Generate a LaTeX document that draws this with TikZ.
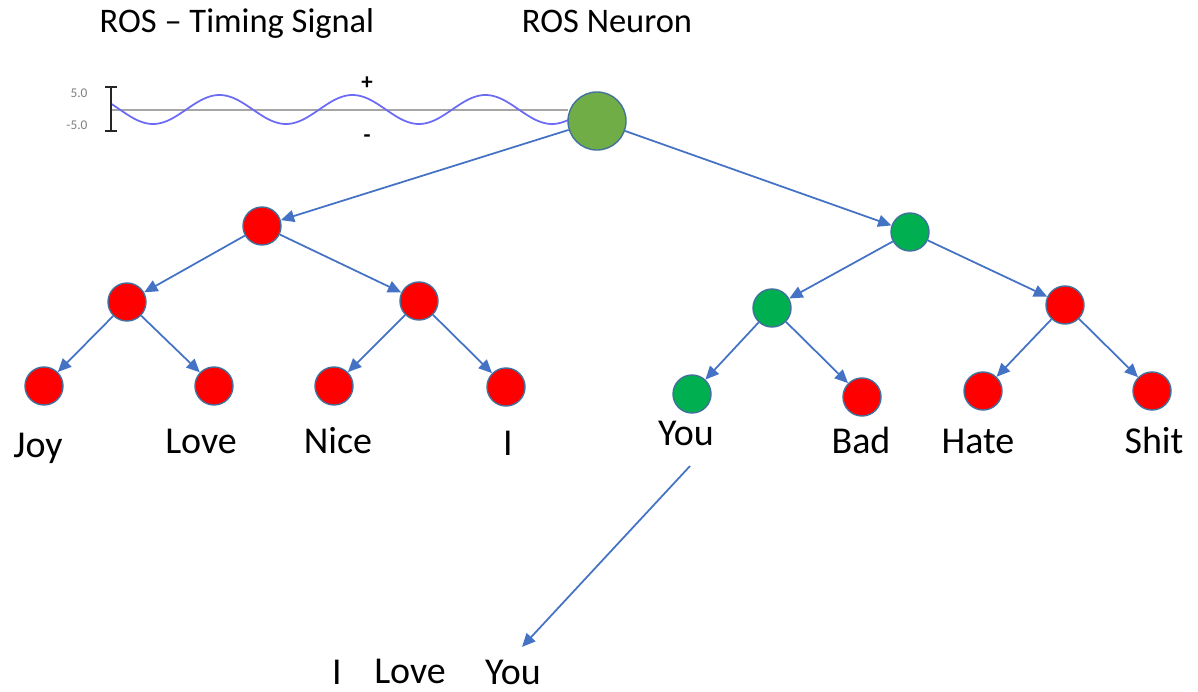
\documentclass[tikz,border=0pt]{standalone}
\usepackage{fontspec}
\setmainfont{Carlito}
\usetikzlibrary{arrows.meta}
\definecolor{edgeblue}{HTML}{4472C4}
\definecolor{nred}{HTML}{FF0000}
\definecolor{ngreen}{HTML}{00B050}
\definecolor{rosgreen}{HTML}{70AD47}
\definecolor{nborder}{HTML}{41719C}
\definecolor{wave}{HTML}{6B6BF5}
\definecolor{axisgray}{HTML}{A6A6A6}
\definecolor{ticklbl}{HTML}{7F7F7F}
\begin{document}
\begin{tikzpicture}[x=0.01cm,y=-0.01cm,
  neuron/.style={circle, draw=nborder, line width=0.4pt, minimum size=0.38cm, inner sep=0},
  rednode/.style={neuron, fill=nred},
  greennode/.style={neuron, fill=ngreen},
  conn/.style={draw=edgeblue, line width=0.5pt, -{Triangle[length=3.8pt,width=3.4pt]}},
  word/.style={font=\fontsize{10.8}{12}\selectfont, anchor=base, inner sep=0},
  title/.style={font=\fontsize{9.8}{12}\selectfont, anchor=base, inner sep=0},
  tiny/.style={font=\fontsize{3.8}{4}\selectfont, text=ticklbl, inner sep=0},
  sign/.style={font=\fontsize{6.5}{6.5}\selectfont\bfseries, inner sep=0}]
\useasboundingbox (0,0) rectangle (1198,691);
% titles
\node[title] (t1) at (237,33) {ROS – Timing Signal};
\node[title] (t2) at (607,33) {ROS Neuron};
% timing signal
\draw[axisgray, line width=0.6pt] (111,110) -- (568,110);
\draw[wave, line width=0.5pt] plot[domain=111:568, samples=200] (\x, {109.5+14.5*cos(2.70677*(\x-153))});
\draw[black!85, line width=0.45pt] (111,87) -- (111,131) (105,87) -- (117,87) (105,131) -- (117,131);
\node[tiny] (v1) at (79,93) {5.0};
\node[tiny] (v2) at (77,125) {-5.0};
\node[sign] (sp) at (367,83) {+};
\node[sign] (sm) at (367,139) {-};
% neurons
\node[neuron, fill=rosgreen, minimum size=0.58cm] (ros) at (597,121) {};
\node[rednode] (a) at (262,226) {};
\node[greennode] (b) at (910,232) {};
\node[rednode] (aa) at (127,302) {};
\node[rednode] (ab) at (419,301) {};
\node[greennode] (ba) at (772,308) {};
\node[rednode] (bb) at (1065,305) {};
\node[rednode] (l1) at (44,386) {};
\node[rednode] (l2) at (214,386) {};
\node[rednode] (l3) at (334,386) {};
\node[rednode] (l4) at (506,387) {};
\node[greennode] (l5) at (692,394) {};
\node[rednode] (l6) at (862,397) {};
\node[rednode] (l7) at (983,391) {};
\node[rednode] (l8) at (1152,391) {};
% edges
\draw[conn] (ros) -- (a);
\draw[conn] (ros) -- (b);
\draw[conn] (a) -- (aa);
\draw[conn] (a) -- (ab);
\draw[conn] (b) -- (ba);
\draw[conn] (b) -- (bb);
\draw[conn] (aa) -- (l1);
\draw[conn] (aa) -- (l2);
\draw[conn] (ab) -- (l3);
\draw[conn] (ab) -- (l4);
\draw[conn] (ba) -- (l5);
\draw[conn] (ba) -- (l6);
\draw[conn] (bb) -- (l7);
\draw[conn] (bb) -- (l8);
% labels
\node[word] (w1) at (38,457) {Joy};
\node[word] (w2) at (201,453) {Love};
\node[word] (w3) at (338,453) {Nice};
\node[word] (w4) at (508,455) {I};
\node[word] (w5) at (686,445) {You};
\node[word] (w6) at (861,453) {Bad};
\node[word] (w7) at (978,453) {Hate};
\node[word] (w8) at (1154,453) {Shit};
% sentence
\node[word] (s1) at (337,684) {I};
\node[word] (s2) at (410,683) {Love};
\node[word] (s3) at (513,684) {You};
\coordinate (ystart) at (690,466);
\draw[conn] (ystart) -- ([xshift=0.09cm,yshift=0.12cm]s3.north);
\end{tikzpicture}
\end{document}
